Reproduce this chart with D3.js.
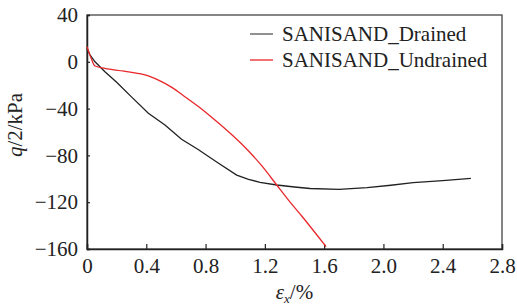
<!DOCTYPE html>
<html>
<head>
<meta charset="utf-8">
<script src="https://cdn.jsdelivr.net/npm/d3@7"></script>
<style>
  body { margin: 0; background: #fff; }
</style>
</head>
<body>
<div id="chart"></div>
<script>
// strain (%) and q/2 (kPa)
const drainedX = [0, 0.02, 0.054, 0.121, 0.2, 0.3, 0.414, 0.526, 0.638, 0.75, 0.88, 1.01, 1.09, 1.167, 1.28, 1.4, 1.505, 1.7, 1.89, 2.05, 2.2, 2.4, 2.59];
const drainedY = [11.5, 6, 0, -8.5, -17.5, -30, -44, -54, -66.2, -75, -86, -96.8, -100.5, -103, -105.3, -107, -108.3, -109, -107.6, -105.5, -103.3, -101.5, -99.6];

const undrainedX = [0, 0.025, 0.054, 0.121, 0.25, 0.414, 0.503, 0.58, 0.66, 0.76, 0.863, 0.97, 1.077, 1.18, 1.28, 1.358, 1.45, 1.613];
const undrainedY = [13, 4, -3.6, -5.6, -8, -12.1, -17, -22.5, -29.8, -39, -49.7, -61.5, -74.5, -89, -105.3, -118, -132, -158];

const xTicks = [0, 0.4, 0.8, 1.2, 1.6, 2.0, 2.4, 2.8];
const yTicks = [40, 0, -40, -80, -120, -160];

const seriesNames = ["SANISAND_Drained", "SANISAND_Undrained"];
const seriesColors = ["#222", "#e8262a"];

const FONT = '"Liberation Serif"';

const W = 517, H = 305;
const margin = { top: 15, right: 15, bottom: 56, left: 87 };
const width = W - margin.left - margin.right,
      height = H - margin.top - margin.bottom;

const svg = d3.select("#chart").append("svg")
  .attr("width", W)
  .attr("height", H);

const g = svg.append("g")
  .attr("transform", `translate(${margin.left},${margin.top})`);

const x = d3.scaleLinear().domain([0, 2.8]).range([0, width]);
const y = d3.scaleLinear().domain([-160, 40]).range([height, 0]);

// frame
g.append("rect")
  .attr("width", width)
  .attr("height", height)
  .attr("fill", "none")
  .attr("stroke", "#444")
  .attr("stroke-width", 1.3);

// x axis, ticks pointing inward
const xAxis = g.append("g")
  .attr("transform", `translate(0,${height})`)
  .call(d3.axisBottom(x).tickValues(xTicks).tickSize(-5).tickPadding(9)
    .tickFormat(d => d === 0 ? "0" : d3.format(".1f")(d)));

// y axis, short inward ticks
const yAxis = g.append("g")
  .call(d3.axisLeft(y).tickValues(yTicks).tickSize(-3).tickPadding(9));

[xAxis, yAxis].forEach(ax => {
  ax.select(".domain").attr("stroke", "#222").attr("stroke-width", 1.5);
  ax.selectAll(".tick line").attr("stroke", "#222").attr("stroke-width", 1.2);
  ax.selectAll("text")
    .attr("fill", "#222")
    .style("font-family", FONT)
    .style("font-size", "21px");
});

// curves
const series = [
  drainedX.map((v, i) => [v, drainedY[i]]),
  undrainedX.map((v, i) => [v, undrainedY[i]])
];
const curves = [d3.curveLinear, d3.curveMonotoneX];

series.forEach((pts, i) => {
  g.append("path")
    .datum(pts)
    .attr("d", d3.line().x(d => x(d[0])).y(d => y(d[1])).curve(curves[i]))
    .attr("fill", "none")
    .attr("stroke", seriesColors[i])
    .attr("stroke-width", 1.3);
});

// legend
const legend = g.append("g")
  .attr("transform", `translate(${250 - margin.left},${34 - margin.top})`);

seriesNames.forEach((name, i) => {
  const row = legend.append("g").attr("transform", `translate(0,${i * 26})`);
  row.append("line")
    .attr("x1", 0).attr("x2", 23)
    .attr("stroke", i === 0 ? "#555" : seriesColors[i])
    .attr("stroke-width", 1.3);
  row.append("text")
    .attr("x", 32)
    .attr("y", 0)
    .attr("dy", "0.33em")
    .attr("fill", "#222")
    .style("font-family", FONT)
    .style("font-size", "21px")
    .text(name);
});

// axis titles
svg.append("text")
  .attr("transform", `translate(22,125) rotate(-90)`)
  .attr("text-anchor", "middle")
  .attr("fill", "#222")
  .style("font-family", FONT)
  .style("font-size", "21px")
  .html('<tspan font-style="italic">q</tspan>/2/kPa');

svg.append("text")
  .attr("x", margin.left + width / 2)
  .attr("y", 299)
  .attr("text-anchor", "middle")
  .attr("fill", "#222")
  .style("font-family", FONT)
  .style("font-size", "21px")
  .html('<tspan font-style="italic">ε</tspan><tspan font-style="italic" font-size="13px" dy="4">x</tspan><tspan dy="-4">/%</tspan>');
</script>
</body>
</html>
